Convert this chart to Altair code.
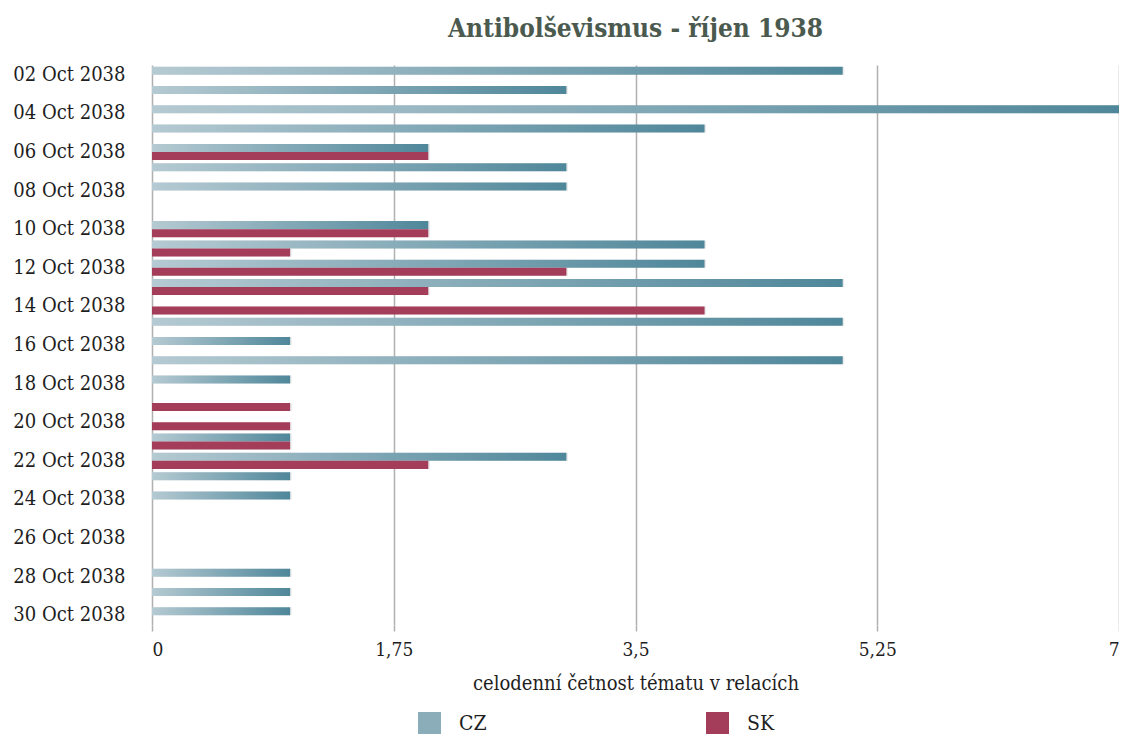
import altair as alt
import pandas as pd

# ---- data ----
days = [f"{d:02d} Oct 2038" for d in range(2, 31)]
cz = [5, 3, 7, 4, 2, 3, 3, 0, 2, 4, 4, 5, 0, 5, 1, 5, 1, 0, 0, 1, 3, 1, 1, 0, 0, 0, 1, 1, 1]
sk = [0, 0, 0, 0, 2, 0, 0, 0, 2, 1, 3, 2, 4, 0, 0, 0, 0, 1, 1, 1, 2, 0, 0, 0, 0, 0, 0, 0, 0]
series = ["CZ", "SK"]
x_ticks = [0, 1.75, 3.5, 5.25, 7]
tick_days = days[::2]

rows = []
for d, c, s in zip(days, cz, sk):
    if c:
        rows.append({"date": d, "series": "CZ", "value": c})
    if s:
        rows.append({"date": d, "series": "SK", "value": s})
df = pd.DataFrame(rows)

FONT = "DejaVu Serif Condensed"
CZ_MID = "#8badb9"
SK_COL = "#a33d5a"
cz_grad = alt.LinearGradient(
    gradient="linear",
    stops=[alt.GradientStop(color="#b5cad2", offset=0),
           alt.GradientStop(color="#4f879a", offset=1)],
    x1=0, x2=1, y1=0, y2=0,
)

y_enc = alt.Y("date:O", scale=alt.Scale(domain=days, paddingInner=0.17, paddingOuter=0.085),
              axis=alt.Axis(values=tick_days, title=None, ticks=False, domain=False,
                            labelFont=FONT, labelFontSize=20, labelColor="#1e1e1e",
                            labelPadding=27))
yoff = alt.YOffset("series:N", scale=alt.Scale(domain=series, paddingInner=0, paddingOuter=0))
x_enc = alt.X("value:Q", scale=alt.Scale(domain=[0, 7], nice=False),
              axis=alt.Axis(values=x_ticks, title="celodenní četnost tématu v relacích",
                            labelExpr="replace(toString(datum.value), '.', ',')",
                            grid=True, gridColor="#b0b0b0", gridWidth=1.5,
                            domain=False, tickColor="#b0b0b0", tickSize=6, tickWidth=1.5,
                            labelFont=FONT, labelFontSize=19, labelColor="#1e1e1e",
                            labelPadding=9, titleFont=FONT, titleFontSize=20,
                            titleFontWeight="normal", titleColor="#1e1e1e", titlePadding=14))

base = alt.Chart(df)

shadow = base.mark_bar(color="#555555", opacity=0.12, xOffset=1.5, yOffset=2.5).encode(
    y=y_enc, yOffset=yoff, x=x_enc)

cz_layer = base.transform_filter(alt.datum.series == "CZ").mark_bar(
    color=cz_grad).encode(y=y_enc, yOffset=yoff, x=x_enc)

sk_layer = base.transform_filter(alt.datum.series == "SK").mark_bar().encode(
    y=y_enc, yOffset=yoff, x=x_enc,
    color=alt.Color("series:N", scale=alt.Scale(domain=series, range=[CZ_MID, SK_COL]),
                    legend=alt.Legend(title=None, orient="none", legendX=266, legendY=647,
                                      direction="horizontal", symbolType="square",
                                      symbolSize=529, symbolStrokeWidth=0,
                                      labelFont=FONT, labelFontSize=21,
                                      labelColor="#1e1e1e", labelOffset=18,
                                      columnPadding=219)),
)

chart = alt.layer(shadow, cz_layer, sk_layer).properties(
    width=967, height=560,
    title=alt.TitleParams("Antibolševismus - říjen 1938", font=FONT, fontWeight="bold",
                          fontSize=26, color="#4b5a4f", anchor="middle", offset=22),
    autosize=alt.AutoSizeParams(type="none"),
    padding={"left": 144, "top": 57, "right": 0, "bottom": 109},
).configure_view(stroke=None)

chart.save("out.html", embed_options={"renderer": "svg", "actions": False})
